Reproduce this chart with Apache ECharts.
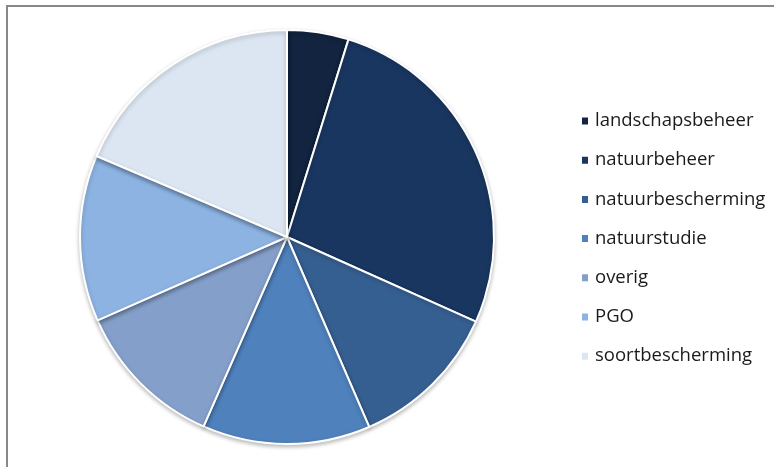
<!DOCTYPE html>
<html>
<head>
<meta charset="utf-8">
<script src="https://cdn.jsdelivr.net/npm/echarts@6/dist/echarts.min.js"></script>
<style>
  html, body { margin: 0; padding: 0; background: #fff; }
  #frame { position: absolute; left: 6px; top: 5px; width: 768px; height: 462px;
           border-left: 2px solid #888; border-top: 2px solid #888; }
  #chart { position: absolute; left: 0; top: 0; width: 774px; height: 467px; }
</style>
</head>
<body>
<div id="frame"></div>
<div id="chart"></div>
<script>
// categories and shares (percent)
const categories = ['landschapsbeheer', 'natuurbeheer', 'natuurbescherming', 'natuurstudie', 'overig', 'PGO', 'soortbescherming'];
const values = [4.8, 26.9, 11.8, 13.1, 11.8, 13.0, 18.6];
const colors = ['#12243f', '#193660', '#365f91', '#4f81bd', '#849fca', '#8db3e2', '#dce6f2'];

const myChart = echarts.init(document.getElementById('chart'));
myChart.setOption({
  animation: false,
  color: colors,
  legend: {
    orient: 'vertical',
    left: 575,
    top: 105,
    icon: 'rect',
    itemWidth: 8,
    itemHeight: 9,
    itemGap: 17.2,
    textStyle: {
      fontFamily: 'Open Sans',
      fontSize: 18.5,
      lineHeight: 22,
      padding: [0, 0, 0, 1],
      color: '#1a1a1a'
    },
    data: categories
  },
  series: [
    {
      type: 'pie',
      center: [287, 237],
      radius: 207,
      startAngle: 90,
      clockwise: true,
      label: { show: false },
      labelLine: { show: false },
      emphasis: { disabled: true },
      itemStyle: {
        borderColor: '#fff',
        borderWidth: 2,
        shadowBlur: 4,
        shadowColor: 'rgba(0,0,0,0.25)',
        shadowOffsetY: 2
      },
      data: categories.map((name, i) => ({ name: name, value: values[i] }))
    }
  ]
});
</script>
</body>
</html>
